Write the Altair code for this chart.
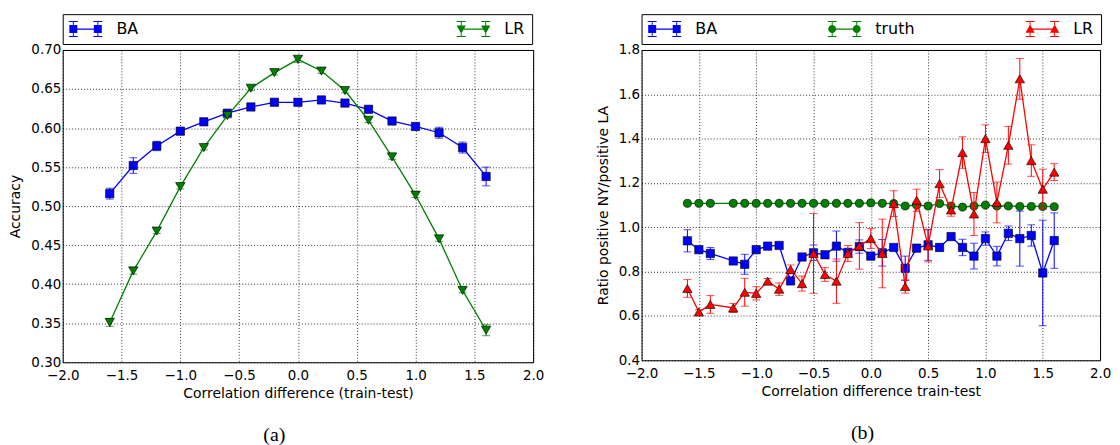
import altair as alt
import pandas as pd

# ---------------- data: panel (a) ----------------
x_a = [-1.6, -1.4, -1.2, -1.0, -0.8, -0.6, -0.4, -0.2, 0.0, 0.2, 0.4, 0.6, 0.8, 1.0, 1.2, 1.4, 1.6]
ba_acc = [0.516, 0.552, 0.577, 0.596, 0.608, 0.619, 0.627, 0.633, 0.633, 0.636, 0.632, 0.624, 0.609, 0.602, 0.594, 0.575, 0.538]
ba_acc_err = [0.007, 0.010, 0.006, 0.004, 0.003, 0.003, 0.003, 0.003, 0.003, 0.003, 0.003, 0.003, 0.003, 0.004, 0.007, 0.007, 0.012]
lr_acc = [0.351, 0.417, 0.468, 0.525, 0.575, 0.616, 0.651, 0.671, 0.688, 0.673, 0.648, 0.610, 0.563, 0.514, 0.458, 0.392, 0.341]
lr_acc_err = [0.005, 0.004, 0.003, 0.003, 0.003, 0.003, 0.003, 0.003, 0.004, 0.003, 0.003, 0.003, 0.003, 0.003, 0.003, 0.003, 0.007]

# ---------------- data: panel (b) ----------------
x_b = [-1.6, -1.5, -1.4, -1.2, -1.1, -1.0, -0.9, -0.8, -0.7, -0.6, -0.5, -0.4, -0.3, -0.2, -0.1,
       0.0, 0.1, 0.2, 0.3, 0.4, 0.5, 0.6, 0.7, 0.8, 0.9, 1.0, 1.1, 1.2, 1.3, 1.4, 1.5, 1.6]
ba_ratio = [0.939, 0.899, 0.882, 0.848, 0.833, 0.899, 0.915, 0.918, 0.758, 0.866, 0.885, 0.876, 0.915, 0.887, 0.913,
            0.870, 0.885, 0.909, 0.815, 0.906, 0.921, 0.909, 0.958, 0.909, 0.870, 0.949, 0.870, 0.973, 0.949, 0.963, 0.794, 0.940]
ba_ratio_err = [0.050, 0.010, 0.027, 0.012, 0.045, 0.010, 0.010, 0.012, 0.012, 0.010, 0.035, 0.010, 0.068, 0.010, 0.030,
                0.015, 0.060, 0.012, 0.055, 0.010, 0.070, 0.015, 0.015, 0.037, 0.058, 0.030, 0.044, 0.033, 0.124, 0.048, 0.238, 0.125]
truth_ratio = [1.108, 1.108, 1.108, 1.108, 1.108, 1.108, 1.108, 1.108, 1.108, 1.108, 1.108, 1.108, 1.108, 1.108, 1.108,
               1.110, 1.108, 1.107, 1.096, 1.100, 1.096, 1.107, 1.096, 1.091, 1.096, 1.100, 1.096, 1.096, 1.094, 1.094, 1.094, 1.093]
truth_ratio_err = [0.002] * 32
lr_ratio = [0.724, 0.618, 0.652, 0.636, 0.707, 0.702, 0.757, 0.721, 0.810, 0.746, 0.882, 0.787, 0.757, 0.882, 0.916,
            0.949, 0.882, 1.107, 0.733, 1.122, 0.916, 1.197, 1.078, 1.337, 1.060, 1.400, 1.112, 1.370, 1.670, 1.301, 1.172, 1.249]
lr_ratio_err = [0.040, 0.010, 0.040, 0.020, 0.063, 0.030, 0.012, 0.028, 0.020, 0.034, 0.180, 0.031, 0.100, 0.036, 0.105,
                0.045, 0.155, 0.058, 0.030, 0.050, 0.072, 0.063, 0.028, 0.071, 0.097, 0.062, 0.092, 0.085, 0.092, 0.071, 0.090, 0.038]

x_ticks = [-2.0, -1.5, -1.0, -0.5, 0.0, 0.5, 1.0, 1.5, 2.0]
y_ticks_a = [0.30, 0.35, 0.40, 0.45, 0.50, 0.55, 0.60, 0.65, 0.70]
y_ticks_b = [0.4, 0.6, 0.8, 1.0, 1.2, 1.4, 1.6, 1.8]

BLUE, GREEN, RED = "#0000ff", "#008000", "#ff0000"
FONT = "DejaVu Sans"
MARKER_SIZE = {"square": 70, "triangle-down": 90, "triangle-up": 90, "circle": 66}


def legend_path(marker):
    """Matplotlib-like errorbar legend handle (line + two markers + bars), unit coords."""
    parts = ["M-1.54,-0.08H1.54V0.08H-1.54Z"]
    for cx in (-1.54, 1.54):
        parts.append(f"M{cx-0.06:.2f},-1H{cx+0.06:.2f}V1H{cx-0.06:.2f}Z")
        parts.append(f"M{cx-0.56:.2f},-1H{cx+0.56:.2f}V-0.88H{cx-0.56:.2f}Z")
        parts.append(f"M{cx-0.56:.2f},0.88H{cx+0.56:.2f}V1H{cx-0.56:.2f}Z")
        if marker == "square":
            parts.append(f"M{cx-0.5:.2f},-0.5H{cx+0.5:.2f}V0.5H{cx-0.5:.2f}Z")
        elif marker == "triangle-down":
            parts.append(f"M{cx-0.58:.2f},-0.45L{cx+0.58:.2f},-0.45L{cx:.2f},0.58Z")
        elif marker == "triangle-up":
            parts.append(f"M{cx+0.58:.2f},0.45L{cx-0.58:.2f},0.45L{cx:.2f},-0.58Z")
        else:
            parts.append(f"M{cx-0.5:.2f},0A0.5,0.5 0 1,1 {cx+0.5:.2f},0A0.5,0.5 0 1,1 {cx-0.5:.2f},0Z")
    return "".join(parts)


def panel(x, series, ydomain, yticks, yfmt, ytitle, xtitle, caption, width, height, col_pad, cap_dx):
    xscale = alt.Scale(domain=[-2, 2], nice=False, zero=False)
    yscale = alt.Scale(domain=ydomain, nice=False, zero=False)
    common_axis = dict(grid=True, gridColor="black", gridDash=[1, 2], gridWidth=0.8, gridOpacity=1,
                       ticks=False, domain=False, labelFont=FONT, labelFontSize=13.5, labelColor="black",
                       titleFont=FONT, titleFontSize=14, titleFontWeight="normal", titleColor="black")
    xaxis = alt.Axis(values=x_ticks, format=".1f", labelPadding=6, titlePadding=5, labelFlush=False,
                     labelOverlap=False, **common_axis)
    yaxis = alt.Axis(values=yticks, format=yfmt, labelPadding=2, titlePadding=8, labelFlush=False,
                     labelOverlap=False, **common_axis)
    layers = []
    for name, vals, errs, color, shape in series:
        df = pd.DataFrame({
            "x": x, "y": vals,
            "lo": [v - e for v, e in zip(vals, errs)],
            "hi": [v + e for v, e in zip(vals, errs)],
        })
        base = alt.Chart(df)
        X = alt.X("x:Q", scale=xscale, axis=xaxis, title=xtitle)
        layers.append(base.mark_rule(color=color, strokeWidth=1).encode(
            x=X, y=alt.Y("lo:Q", scale=yscale, axis=yaxis, title=ytitle), y2="hi:Q"))
        for f in ("lo", "hi"):
            layers.append(base.mark_tick(color=color, orient="horizontal", size=8, thickness=1).encode(
                x=X, y=alt.Y(f"{f}:Q", scale=yscale, axis=yaxis, title=ytitle)))
        layers.append(base.mark_line(color=color, strokeWidth=1.3).encode(
            x=X, y=alt.Y("y:Q", scale=yscale, axis=yaxis, title=ytitle)))
        layers.append(base.mark_point(shape=shape, filled=True, fill=color, stroke="black",
                                      strokeWidth=0.6, size=MARKER_SIZE[shape], opacity=1).encode(
            x=X, y=alt.Y("y:Q", scale=yscale, axis=yaxis, title=ytitle)))
    names = [s[0] for s in series]
    colors = [s[3] for s in series]
    paths = [legend_path(s[4]) for s in series]
    leg = alt.Legend(title=None, orient="none", legendX=0, legendY=-36, direction="horizontal",
                     columns=len(names), columnPadding=col_pad, padding=7, strokeColor="black",
                     fillColor="white", cornerRadius=0, labelFont=FONT,
                     labelFontSize=16, labelColor="black", symbolSize=256, symbolOffset=8,
                     labelOffset=23, symbolStrokeWidth=0, symbolOpacity=1)
    leg_layer = alt.Chart(pd.DataFrame({"s": names})).transform_filter("datum.s == '__none__'").mark_point(
        filled=True).encode(
        color=alt.Color("s:N", scale=alt.Scale(domain=names, range=colors), legend=leg),
        shape=alt.Shape("s:N", scale=alt.Scale(domain=names, range=paths), legend=leg),
    )
    layers.append(leg_layer)
    return alt.layer(*layers).properties(
        width=width, height=height,
        title=alt.TitleParams(caption, orient="bottom", font="Liberation Serif", fontSize=20,
                              fontWeight="normal", color="black", offset=25, anchor="middle",
                              frame="bounds", dx=cap_dx),
    )


left = panel(
    x_a,
    [("BA", ba_acc, ba_acc_err, BLUE, "square"), ("LR", lr_acc, lr_acc_err, GREEN, "triangle-down")],
    [0.30, 0.70], y_ticks_a, ".2f", "Accuracy", "Correlation difference (train-test)", "(a)",
    473, 314, 320, -2,
)
right = panel(
    x_b,
    [("BA", ba_ratio, ba_ratio_err, BLUE, "square"), ("truth", truth_ratio, truth_ratio_err, GREEN, "circle"),
     ("LR", lr_ratio, lr_ratio_err, RED, "triangle-up")],
    [0.4, 1.8], y_ticks_b, ".1f", "Ratio positive NY/positive LA", "Correlation difference train-test", "(b)",
    461, 312, 111, 9,
)

chart = alt.hconcat(left, right, spacing=51).resolve_scale(
    color="independent", shape="independent", x="independent", y="independent"
).resolve_legend(color="independent", shape="independent").configure_view(
    stroke="black", strokeWidth=1
).properties(
    padding={"left": 0, "top": 4, "right": 0, "bottom": 0}, background="white"
)

chart.save("out.html", embed_options={"renderer": "svg", "actions": False})
